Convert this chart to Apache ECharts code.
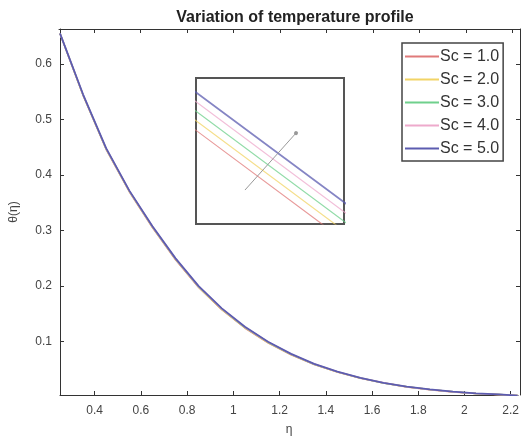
<!DOCTYPE html>
<html>
<head>
<meta charset="utf-8">
<script src="https://cdn.jsdelivr.net/npm/echarts@6/dist/echarts.min.js"></script>
<style>
  html, body { margin: 0; padding: 0; background: #fff; }
  #chart { width: 522px; height: 443px; }
</style>
</head>
<body>
<div id="chart"></div>
<script>
// eta grid and temperature values
const eta = [0.25, 0.35, 0.45, 0.55, 0.65, 0.75, 0.85, 0.95, 1.05, 1.15, 1.25, 1.35, 1.45, 1.55, 1.65, 1.75, 1.85, 1.95, 2.05, 2.15, 2.23]
const sc1 = [0.655, 0.5434, 0.4460, 0.3700, 0.3056, 0.2476, 0.1976, 0.1576, 0.1246, 0.0980, 0.0764, 0.0588, 0.0452, 0.0342, 0.0256, 0.0186, 0.0136, 0.0096, 0.0066, 0.0046, 0.003]
const sc2 = [0.655, 0.5438, 0.4465, 0.3705, 0.3062, 0.2482, 0.1982, 0.1582, 0.1252, 0.0985, 0.0768, 0.0591, 0.0454, 0.0344, 0.0257, 0.0187, 0.0137, 0.0097, 0.0067, 0.0047, 0.003]
const sc3 = [0.655, 0.5442, 0.4470, 0.3710, 0.3068, 0.2488, 0.1988, 0.1588, 0.1258, 0.0990, 0.0772, 0.0594, 0.0456, 0.0346, 0.0258, 0.0188, 0.0138, 0.0098, 0.0068, 0.0048, 0.003]
const sc4 = [0.655, 0.5446, 0.4475, 0.3715, 0.3074, 0.2494, 0.1994, 0.1594, 0.1264, 0.0995, 0.0776, 0.0597, 0.0458, 0.0348, 0.0259, 0.0189, 0.0139, 0.0099, 0.0069, 0.0049, 0.003]
const sc5 = [0.655, 0.545, 0.448, 0.372, 0.308, 0.250, 0.200, 0.1600, 0.1270, 0.100, 0.078, 0.060, 0.046, 0.035, 0.026, 0.019, 0.014, 0.010, 0.007, 0.005, 0.003]

const seriesNames = ['Sc = 1.0', 'Sc = 2.0', 'Sc = 3.0', 'Sc = 4.0', 'Sc = 5.0']
const seriesValues = [sc1, sc2, sc3, sc4, sc5]
const colors = ['#e07a7a', '#f2d466', '#6fd08c', '#eeaacc', '#5c5cb0']

const xTicks = [0.4, 0.6, 0.8, 1, 1.2, 1.4, 1.6, 1.8, 2, 2.2]
const yTicks = [0.1, 0.2, 0.3, 0.4, 0.5, 0.6]

// zoom window shown in the inset box
const insetX = [0.99, 1.011]
const insetY = [0.1385, 0.1477]
const arrowFrom = [0.99695, 0.14064]
const arrowTo = [1.00419, 0.14423]

const chart = echarts.init(document.getElementById('chart'), null, { renderer: 'canvas' })

const axisColor = '#333'
const font = 'Liberation Sans, Arial, sans-serif'

function pairs(ys) { return eta.map((x, i) => [x, ys[i]]) }

const series = []
seriesValues.forEach((ys, i) => {
  series.push({
    name: seriesNames[i], type: 'line', xAxisIndex: 0, yAxisIndex: 0,
    data: pairs(ys), showSymbol: false, symbol: 'none',
    color: colors[i],
    lineStyle: { color: colors[i], width: i === 4 ? 1.8 : 1.5 },
    itemStyle: { color: colors[i] }
  })
})
seriesValues.forEach((ys, i) => {
  const s = {
    name: 'inset ' + seriesNames[i], type: 'line', xAxisIndex: 2, yAxisIndex: 2,
    data: pairs(ys), showSymbol: false, symbol: 'none', clip: true,
    color: colors[i],
    lineStyle: { color: colors[i], width: i === 4 ? 1.8 : 1.2, opacity: 0.75 }
  }
  if (i === 4) {
    s.markLine = {
      silent: true, symbol: ['none', 'circle'], symbolSize: 4,
      label: { show: false },
      lineStyle: { color: '#999', width: 1, type: 'solid' },
      data: [[{ coord: arrowFrom }, { coord: arrowTo }]]
    }
  }
  series.push(s)
})

const tickStyle = { inside: true, length: 4, lineStyle: { color: axisColor } }

chart.setOption({
  animation: false,
  backgroundColor: '#fff',
  textStyle: { fontFamily: font },
  title: {
    text: 'Variation of temperature profile', left: 290, top: 5, textAlign: 'center',
    textStyle: { fontSize: 16, fontWeight: 'bold', color: '#222', fontFamily: font }
  },
  legend: {
    data: seriesNames.map((n, i) => ({ name: n, itemStyle: { color: colors[i], borderWidth: 0 } })),
    orient: 'vertical', left: 402, top: 43,
    icon: 'rect', itemWidth: 34, itemHeight: 2, itemGap: 6,
    backgroundColor: '#fff', borderColor: '#444', borderWidth: 1.5, padding: [5, 4, 4, 3],
    textStyle: { fontSize: 16, color: '#333', lineHeight: 17, fontFamily: font, padding: [0, 0, 0, -4] }
  },
  grid: [
    { left: 59, top: 29, right: 2, bottom: 48 },
    { left: 59, top: 29, right: 2, bottom: 48 },
    { left: 196, top: 78, width: 148, height: 146, show: true, borderColor: '#555', borderWidth: 2, backgroundColor: '#fff', z: 3 }
  ],
  xAxis: [
    {
      gridIndex: 0, type: 'value', min: 0.25, max: 2.232,
      name: 'η', nameLocation: 'middle', nameGap: 29,
      nameTextStyle: { fontSize: 12, color: '#444' },
      axisLine: { show: true, lineStyle: { color: axisColor } },
      axisTick: Object.assign({ customValues: xTicks }, tickStyle),
      axisLabel: { customValues: xTicks, fontSize: 12, color: '#444', margin: 10 },
      splitLine: { show: false }
    },
    {
      gridIndex: 1, type: 'value', position: 'top', min: 0.25, max: 2.232,
      axisLine: { show: true, lineStyle: { color: axisColor } },
      axisTick: Object.assign({ customValues: xTicks }, tickStyle),
      axisLabel: { show: false }, splitLine: { show: false }
    },
    {
      gridIndex: 2, type: 'value', min: insetX[0], max: insetX[1],
      axisLine: { show: false }, axisTick: { show: false }, axisLabel: { show: false }, splitLine: { show: false }
    }
  ],
  yAxis: [
    {
      gridIndex: 0, type: 'value', min: 0.004, max: 0.663,
      name: 'θ(η)', nameLocation: 'middle', nameGap: 40, nameRotate: 90,
      nameTextStyle: { fontSize: 12, color: '#444' },
      axisLine: { show: true, lineStyle: { color: axisColor } },
      axisTick: Object.assign({ customValues: yTicks }, tickStyle),
      axisLabel: { customValues: yTicks, fontSize: 12, color: '#444', margin: 8 },
      splitLine: { show: false }
    },
    {
      gridIndex: 1, type: 'value', position: 'right', min: 0.004, max: 0.663,
      axisLine: { show: true, lineStyle: { color: axisColor } },
      axisTick: Object.assign({ customValues: yTicks }, tickStyle),
      axisLabel: { show: false }, splitLine: { show: false }
    },
    {
      gridIndex: 2, type: 'value', min: insetY[0], max: insetY[1],
      axisLine: { show: false }, axisTick: { show: false }, axisLabel: { show: false }, splitLine: { show: false }
    }
  ],
  series
})
</script>
</body>
</html>
